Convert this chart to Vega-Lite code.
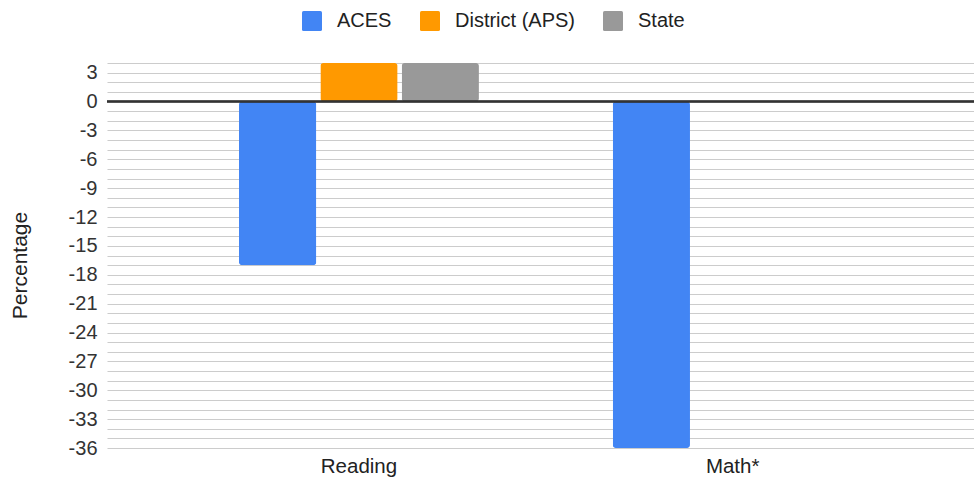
{
  "$schema": "https://vega.github.io/schema/vega-lite/v6.json",
  "width": 867,
  "height": 385,
  "autosize": {"type": "none"},
  "padding": {"left": 107, "top": 63, "right": 0, "bottom": 35},
  "background": "#ffffff",
  "config": {
    "font": "Liberation Sans",
    "view": {"stroke": null},
    "axis": {"labelFont": "Liberation Sans", "titleFont": "Liberation Sans"},
    "legend": {"labelFont": "Liberation Sans"}
  },
  "data": {
    "values": [
      {"subject": "Reading", "group": "ACES", "value": -17},
      {"subject": "Reading", "group": "District (APS)", "value": 4},
      {"subject": "Reading", "group": "State", "value": 4},
      {"subject": "Math*", "group": "ACES", "value": -36},
      {"subject": "Math*", "group": "District (APS)", "value": 0},
      {"subject": "Math*", "group": "State", "value": 0}
    ]
  },
  "layer": [
    {
      "mark": {"type": "bar", "cornerRadius": 3},
      "encoding": {
        "x": {
          "field": "subject",
          "type": "nominal",
          "sort": ["Reading", "Math*"],
          "scale": {"paddingInner": 0.358, "paddingOuter": 0.339, "align": 0.521},
          "axis": {
            "title": null,
            "labelAngle": 0,
            "labelFontSize": 20.5,
            "labelColor": "#222222",
            "labelPadding": 8,
            "ticks": false,
            "domain": false,
            "grid": false
          }
        },
        "xOffset": {
          "field": "group",
          "type": "nominal",
          "sort": ["ACES", "District (APS)", "State"],
          "scale": {"paddingInner": 0.05, "paddingOuter": 0}
        },
        "y": {
          "field": "value",
          "type": "quantitative",
          "scale": {"domain": [-36, 4], "nice": false, "zero": false},
          "axis": {
            "title": "Percentage",
            "titleFontSize": 21,
            "titleFontWeight": "normal",
            "titleColor": "#222222",
            "titlePadding": 38,
            "titleY": 202,
            "tickCount": 100,
            "values": [-36,-35,-34,-33,-32,-31,-30,-29,-28,-27,-26,-25,-24,-23,-22,-21,-20,-19,-18,-17,-16,-15,-14,-13,-12,-11,-10,-9,-8,-7,-6,-5,-4,-3,-2,-1,0,1,2,3,4],
            "labelExpr": "datum.value % 3 === 0 ? '' + datum.value : ''",
            "labelOverlap": false,
            "labelBound": false,
            "labelFontSize": 20,
            "labelColor": "#333333",
            "labelPadding": 10,
            "ticks": false,
            "domain": false,
            "grid": true,
            "gridColor": "#cccccc",
            "gridWidth": 1.2
          }
        },
        "color": {
          "field": "group",
          "type": "nominal",
          "sort": ["ACES", "District (APS)", "State"],
          "scale": {
            "domain": ["ACES", "District (APS)", "State"],
            "range": ["#4285F4", "#FF9900", "#999999"]
          },
          "legend": {
            "title": null,
            "orient": "none",
            "direction": "horizontal",
            "legendX": 195,
            "legendY": -52,
            "padding": 0,
            "symbolType": "M-0.84,-1H0.84Q1,-1,1,-0.84V0.84Q1,1,0.84,1H-0.84Q-1,1,-1,0.84V-0.84Q-1,-1,-0.84,-1Z",
            "symbolSize": 400,
            "symbolStrokeWidth": 0,
            "labelFontSize": 20,
            "labelColor": "#222222",
            "labelOffset": 15,
            "columnPadding": 28
          }
        }
      }
    },
    {
      "mark": {"type": "rule", "color": "#333333", "strokeWidth": 1.5},
      "encoding": {"y": {"datum": 0}}
    }
  ]
}
